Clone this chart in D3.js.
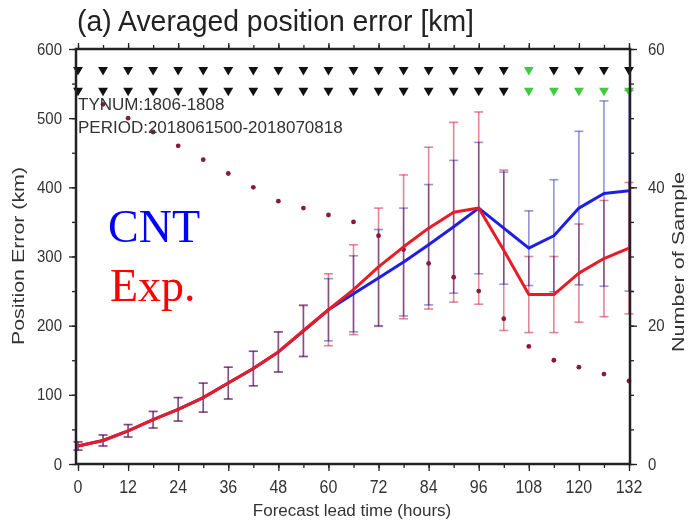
<!DOCTYPE html>
<html><head><meta charset="utf-8">
<script src="https://cdn.jsdelivr.net/npm/d3@7"></script>
<style>body{margin:0;background:#fff}svg{display:block}</style>
</head><body>
<svg id="c" width="693" height="521"></svg>
<script>
// ---- data ----
const leads = [0,6,12,18,24,30,36,42,48,54,60,66,72,78,84,90,96,102,108,114,120,126,132];
const cntMean = [26,34,48,64,79,96,117,138,162,192,223,246,269,292,317,343,370,341,312,330,370,391,395];
const expMean = [26,34,48,64,79,96,117,138,162,193,223,252,285,314,341,364,370,309,245,245,276,297,312];
const cntSd = [6,8,9,12,17,21,23,25,29,37,45,55,70,78,87,96,95,81,54,81,111,134,145];
const expSd = [6,8,9,12,17,21,23,25,29,37,52,65,85,104,117,130,139,116,55,55,71,84,95];
const samples = [54,52,50,48,46,44,42,40,38,37,36,35,33,31,29,27,25,21,17,15,14,13,12];
const sigRow1 = [0,0,0,0,0,0,0,0,0,0,0,0,0,0,0,0,0,0,1,0,0,0,0];
const sigRow2 = [0,0,0,0,0,0,0,0,0,0,0,0,0,0,0,0,0,0,1,1,1,1,1];
const sigLevels = [57, 54];
const xTicks = [0,12,24,36,48,60,72,84,96,108,120,132];
const yTicks = [0,100,200,300,400,500,600];
const y2Ticks = [0,20,40,60];
const titleText = "(a) Averaged position error [km]";
const infoLines = ["TYNUM:1806-1808","PERIOD:2018061500-2018070818"];

// ---- scales ----
const svg = d3.select("#c");
const x = d3.scaleLinear().domain([0,132]).range([78,629]);
const y = d3.scaleLinear().domain([0,600]).range([464,49]);
const y2 = d3.scaleLinear().domain([0,60]).range([464,49]);
const font = "'Liberation Sans', Arial, Helvetica, sans-serif";

// ---- frame & ticks ----
const g = svg.append("g");
function tickAxis(axis, scale, ticks, size, tr) {
  const a = g.append("g").attr("transform", tr).call(axis(scale).tickValues(ticks).tickSize(size).tickFormat(""));
  a.select(".domain").remove();
  a.selectAll("line").attr("stroke","#222").attr("stroke-width",1.3);
}
tickAxis(d3.axisBottom, x, d3.range(0,133,6), 4, "translate(0,464)");
tickAxis(d3.axisBottom, x, xTicks, 7, "translate(0,464)");
tickAxis(d3.axisTop, x, d3.range(0,133,6), 4, "translate(0,49)");
tickAxis(d3.axisTop, x, xTicks, 6, "translate(0,49)");
tickAxis(d3.axisLeft, y, d3.range(0,601,50), 4, "translate(76,0)");
tickAxis(d3.axisLeft, y, yTicks, 7, "translate(76,0)");
tickAxis(d3.axisRight, y2, d3.range(0,61,5), 4, "translate(630,0)");
tickAxis(d3.axisRight, y2, y2Ticks, 7, "translate(630,0)");

// tick labels
g.selectAll("text.xl").data(xTicks).join("text")
  .attr("transform", d=>`translate(${x(d)},493) scale(1,1.1)`).attr("text-anchor","middle")
  .attr("font-family",font).attr("font-size",16).attr("fill","#333").text(d=>d);
g.selectAll("text.yl").data(yTicks).join("text")
  .attr("transform", d=>`translate(62,${y(d)+5.5}) scale(1,1.1)`).attr("text-anchor","end")
  .attr("font-family",font).attr("font-size",15).attr("fill","#333").text(d=>d);
g.selectAll("text.y2l").data(y2Ticks).join("text")
  .attr("transform", d=>`translate(648,${y2(d)+5.5}) scale(1,1.1)`).attr("text-anchor","start")
  .attr("font-family",font).attr("font-size",15).attr("fill","#333").text(d=>d);

// axis titles
svg.append("text").attr("x",352).attr("y",516).attr("text-anchor","middle")
  .attr("font-family",font).attr("font-size",17).attr("fill","#333").text("Forecast lead time (hours)");
svg.append("text").attr("transform","translate(24,256) rotate(-90)").attr("text-anchor","middle")
  .attr("font-family",font).attr("font-size",17).attr("fill","#333")
  .attr("textLength",178).attr("lengthAdjust","spacingAndGlyphs").text("Position Error (km)");
svg.append("text").attr("transform","translate(684,262) rotate(-90)").attr("text-anchor","middle")
  .attr("font-family",font).attr("font-size",17).attr("fill","#333")
  .attr("textLength",180).attr("lengthAdjust","spacingAndGlyphs").text("Number of Sample");

// title
svg.append("text").attr("transform","translate(77,31) scale(1,1.05)")
  .attr("font-family",font).attr("font-size",28).attr("fill","#222")
  .attr("textLength",397).attr("lengthAdjust","spacingAndGlyphs").text(titleText);

// ---- error bars ----
function bars(mean, sd, color) {
  const gg = svg.append("g").attr("stroke",color).attr("stroke-opacity",0.5).attr("stroke-width",1.6)
    .style("mix-blend-mode","multiply");
  leads.forEach((l,i)=>{
    const top = y(mean[i]+sd[i]), bot = y(mean[i]-sd[i]), xc = x(l);
    gg.append("line").attr("x1",xc).attr("x2",xc).attr("y1",top).attr("y2",bot);
    gg.append("line").attr("x1",xc-4.5).attr("x2",xc+4.5).attr("y1",top).attr("y2",top);
    gg.append("line").attr("x1",xc-4.5).attr("x2",xc+4.5).attr("y1",bot).attr("y2",bot);
  });
}
bars(cntMean, cntSd, "#2a2ab8");
bars(expMean, expSd, "#c8102e");

// ---- sample count dots ----
svg.append("g").selectAll("circle").data(samples).join("circle")
  .attr("cx",(d,i)=>x(leads[i])).attr("cy",d=>y2(d)).attr("r",2.4).attr("fill","#8a1a3a");

// ---- lines ----
const line = (arr)=> d3.line().x((d,i)=>x(leads[i])).y(d=>y(d))(arr);
svg.append("path").attr("d",line(cntMean)).attr("fill","none").attr("stroke","#1f1fe0").attr("stroke-width",3).attr("stroke-linejoin","round");
svg.append("path").attr("d",line(expMean)).attr("fill","none").attr("stroke","#e81c24").attr("stroke-width",3).attr("stroke-linejoin","round");

// ---- significance triangles ----
const tri = d3.symbol().type(d3.symbolTriangle).size(42);
[sigRow1, sigRow2].forEach((row,r)=>{
  svg.append("g").selectAll("path").data(row).join("path")
    .attr("d", tri)
    .attr("transform",(d,i)=>`translate(${x(leads[i])},${y2(sigLevels[r])}) rotate(180)`)
    .attr("fill", d=> d ? "#3ccc3c" : "#111");
});

// ---- frame ----
svg.append("rect").attr("x",76).attr("y",49).attr("width",554).attr("height",415)
  .attr("fill","none").attr("stroke","#222").attr("stroke-width",2.5);

// ---- info text ----
svg.append("g").selectAll("text").data(infoLines).join("text")
  .attr("x",78).attr("y",(d,i)=>110+i*23)
  .attr("font-family",font).attr("font-size",17).attr("fill","#333").text(d=>d);

// ---- legend text ----
svg.append("text").attr("x",108).attr("y",242).attr("font-family","'Liberation Serif','Times New Roman',serif")
  .attr("font-size",46).attr("fill","#0000ff").text("CNT");
svg.append("text").attr("x",110).attr("y",301).attr("font-family","'Liberation Serif','Times New Roman',serif")
  .attr("font-size",46).attr("fill","#ff0000").text("Exp.");
</script>
</body></html>
